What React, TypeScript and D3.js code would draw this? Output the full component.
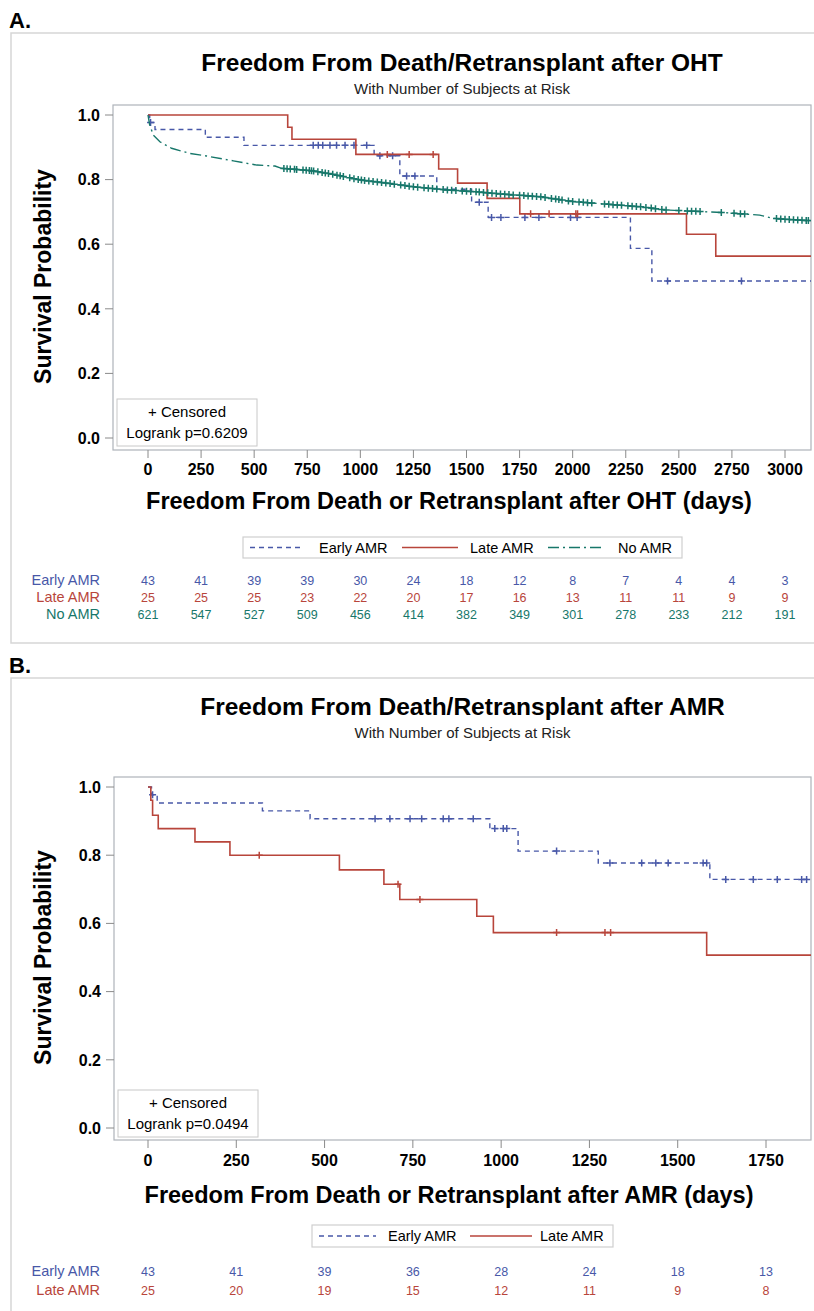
import React, { useEffect, useRef } from "react";
import * as d3 from "d3";

type Pt = [number, number];

// ---- Panel A: after OHT ----
const ohtTicks = [0, 250, 500, 750, 1000, 1250, 1500, 1750, 2000, 2250, 2500, 2750, 3000];

const ohtEarlyEvents: Pt[] = [
  [8, 0.977], [33, 0.955], [270, 0.931], [452, 0.906], [1065, 0.874], [1186, 0.811],
  [1360, 0.770], [1524, 0.730], [1602, 0.683], [2272, 0.587], [2373, 0.486],
];
const ohtEarlyCensored = [
  12, 778, 802, 823, 857, 888, 928, 970, 1030, 1092, 1152, 1218, 1257, 1560, 1618,
  1662, 1775, 1841, 1990, 2021, 2447, 2795,
];

const ohtLateEvents: Pt[] = [
  [658, 0.962], [678, 0.925], [979, 0.878], [1369, 0.833], [1458, 0.789],
  [1597, 0.742], [1751, 0.694], [2536, 0.631], [2674, 0.563],
];
const ohtLateCensored = [1127, 1230, 1343, 1802, 1889, 2015, 2023];

// No AMR: traced off the (very dense) curve
const ohtNoneTrace: Pt[] = [
  [8, 0.969], [25, 0.938], [56, 0.917], [111, 0.897], [198, 0.881], [276, 0.873],
  [402, 0.858], [512, 0.845], [598, 0.842], [629, 0.835], [778, 0.827], [873, 0.816],
  [998, 0.799], [1124, 0.789], [1249, 0.778], [1406, 0.768], [1532, 0.763], [1689, 0.754],
  [1846, 0.747], [2002, 0.732], [2160, 0.724], [2316, 0.716], [2442, 0.706], [2536, 0.703],
  [2709, 0.698], [2881, 0.690], [2944, 0.680], [3101, 0.673],
];
const ohtNoneCensored = [
  640, 655, 670, 690, 700, 730, 745, 760, 770, 780, 800, 820, 835, 850, 870, 890, 905,
  920, 950, 970, 990, 1005, 1020, 1040, 1060, 1080, 1100, 1120, 1140, 1160, 1190, 1210,
  1230, 1250, 1270, 1300, 1320, 1340, 1360, 1390, 1410, 1430, 1450, 1480, 1500, 1520,
  1545, 1560, 1580, 1600, 1620, 1640, 1660, 1680, 1700, 1720, 1750, 1770, 1790, 1810,
  1830, 1850, 1870, 1900, 1920, 1935, 1950, 1980, 2000, 2030, 2050, 2070, 2090, 2150,
  2170, 2190, 2210, 2230, 2260, 2280, 2300, 2320, 2345, 2370, 2390, 2420, 2440, 2500,
  2540, 2560, 2580, 2600, 2700, 2760, 2790, 2810, 2960, 2980, 3000, 3020, 3040, 3060,
  3080, 3100, 3110,
];

const ohtRiskEarly = [43, 41, 39, 39, 30, 24, 18, 12, 8, 7, 4, 4, 3];
const ohtRiskLate = [25, 25, 25, 23, 22, 20, 17, 16, 13, 11, 11, 9, 9];
const ohtRiskNone = [621, 547, 527, 509, 456, 414, 382, 349, 301, 278, 233, 212, 191];

// ---- Panel B: after AMR ----
const amrTicks = [0, 250, 500, 750, 1000, 1250, 1500, 1750];

const amrEarlyEvents: Pt[] = [
  [10, 0.977], [26, 0.953], [324, 0.930], [459, 0.907], [968, 0.878], [1048, 0.812],
  [1275, 0.777], [1591, 0.729],
];
const amrEarlyCensored = [
  13, 643, 685, 742, 775, 836, 852, 921, 982, 1006, 1016, 1157, 1308, 1398, 1438, 1473,
  1572, 1582, 1636, 1714, 1782, 1851, 1865,
];
const amrLateEvents: Pt[] = [
  [8, 0.961], [13, 0.917], [29, 0.878], [133, 0.839], [232, 0.800], [542, 0.757],
  [668, 0.715], [713, 0.670], [931, 0.621], [978, 0.573], [1582, 0.507],
];
const amrLateCensored = [315, 708, 770, 1157, 1294, 1310];

const amrRiskEarly = [43, 41, 39, 36, 28, 24, 18, 13];
const amrRiskLate = [25, 20, 19, 15, 12, 11, 9, 8];

const yTicks = [0, 0.2, 0.4, 0.6, 0.8, 1.0];

const FONT = '"Liberation Sans", Arial, Helvetica, sans-serif';
const BLUE = "#4858a8";
const RED = "#b8453b";
const TEAL = "#17776a";

interface Series {
  name: string;
  color: string;
  dash: string | null;
  points: Pt[];
  stepped: boolean;
  censored: number[];
  risk: number[];
}

interface PanelCfg {
  id: string;
  label: string;
  labelY: number;
  frameTop: number;
  frameBottom: number;
  title: string;
  titleY: number;
  subtitleY: number;
  plot: { left: number; right: number; top: number; bottom: number };
  yRange: [number, number];
  xDomain: [number, number];
  xRange: [number, number];
  ticks: number[];
  tickLabelY: number;
  xTitle: string;
  xTitleY: number;
  pValue: string;
  boxTop: number;
  legend: { left: number; right: number; top: number; bottom: number; items: [number, number, number][] };
  riskY: number[];
  series: Series[];
}

const valueAt = (s: Series, t: number) => {
  const pts: Pt[] = [[0, 1], ...s.points];
  const i = d3.bisector((d: Pt) => d[0]).right(pts, t) - 1;
  if (s.stepped || i >= pts.length - 1) return pts[Math.max(i, 0)][1];
  const a = pts[i];
  const b = pts[i + 1];
  return a[1] + ((t - a[0]) / (b[0] - a[0])) * (b[1] - a[1]);
};

function drawPanel(root: d3.Selection<SVGSVGElement, unknown, null, undefined>, p: PanelCfg) {
  const g = root.append("g");
  const { left, right, top, bottom } = p.plot;
  const cx = (left + right) / 2;

  g.append("rect")
    .attr("x", 11)
    .attr("y", p.frameTop)
    .attr("width", 820)
    .attr("height", p.frameBottom - p.frameTop)
    .attr("fill", "none")
    .attr("stroke", "#d6d6d6")
    .attr("stroke-width", 1.5);

  g.append("text")
    .attr("x", 9)
    .attr("y", p.labelY)
    .attr("font-size", 22)
    .attr("font-weight", "bold")
    .text(p.label);

  g.append("text")
    .attr("x", cx)
    .attr("y", p.titleY)
    .attr("text-anchor", "middle")
    .attr("font-size", 24.5)
    .attr("font-weight", "bold")
    .text(p.title);

  g.append("text")
    .attr("x", cx)
    .attr("y", p.subtitleY)
    .attr("text-anchor", "middle")
    .attr("font-size", 15)
    .attr("fill", "#222")
    .text("With Number of Subjects at Risk");

  const x = d3.scaleLinear().domain(p.xDomain).range(p.xRange);
  const y = d3.scaleLinear().domain([0, 1]).range(p.yRange);
  const xMax = x.invert(right);

  // plot border
  g.append("rect")
    .attr("x", left)
    .attr("y", top)
    .attr("width", right - left)
    .attr("height", bottom - top)
    .attr("fill", "none")
    .attr("stroke", "#aeb3ba")
    .attr("stroke-width", 1.2);

  // y axis
  yTicks.forEach((v) => {
    g.append("line")
      .attr("x1", left - 8)
      .attr("x2", left)
      .attr("y1", y(v))
      .attr("y2", y(v))
      .attr("stroke", "#8a8a8a");
    g.append("text")
      .attr("x", left - 13)
      .attr("y", y(v))
      .attr("dy", "0.36em")
      .attr("text-anchor", "end")
      .attr("font-size", 16)
      .attr("font-weight", "bold")
      .text(v.toFixed(1));
  });
  g.append("text")
    .attr("transform", `translate(51,${(p.yRange[0] + p.yRange[1]) / 2}) rotate(-90)`)
    .attr("text-anchor", "middle")
    .attr("font-size", 23)
    .attr("font-weight", "bold")
    .text("Survival Probability");

  // x axis
  p.ticks.forEach((t) => {
    g.append("line")
      .attr("x1", x(t))
      .attr("x2", x(t))
      .attr("y1", bottom)
      .attr("y2", bottom + 8)
      .attr("stroke", "#8a8a8a");
    g.append("text")
      .attr("x", x(t))
      .attr("y", p.tickLabelY)
      .attr("text-anchor", "middle")
      .attr("font-size", 16)
      .attr("font-weight", "bold")
      .text(t);
  });
  g.append("text")
    .attr("x", 449)
    .attr("y", p.xTitleY)
    .attr("text-anchor", "middle")
    .attr("font-size", 23.5)
    .attr("font-weight", "bold")
    .text(p.xTitle);

  // curves
  const clipId = `clip-${p.id}`;
  g.append("clipPath")
    .attr("id", clipId)
    .append("rect")
    .attr("x", left)
    .attr("y", top)
    .attr("width", right - left)
    .attr("height", bottom - top);
  const cg = g.append("g").attr("clip-path", `url(#${clipId})`);

  p.series.forEach((s) => {
    const last = s.points[s.points.length - 1][1];
    const pts: Pt[] = [[0, 1], ...s.points, [xMax, last]];
    const line = d3
      .line<Pt>()
      .x((d) => x(d[0]))
      .y((d) => y(d[1]))
      .curve(s.stepped ? d3.curveStepAfter : d3.curveLinear);
    cg.append("path")
      .datum(pts)
      .attr("fill", "none")
      .attr("stroke", s.color)
      .attr("stroke-width", s.dash ? 1.4 : 1.6)
      .attr("stroke-dasharray", s.dash)
      .attr("d", line);

    cg.selectAll(null)
      .data(s.censored)
      .enter()
      .append("path")
      .attr("d", (t) => {
        const px = x(t);
        const py = y(valueAt(s, t));
        return `M${px - 3.5},${py}H${px + 3.5}M${px},${py - 3.5}V${py + 3.5}`;
      })
      .attr("stroke", s.color)
      .attr("stroke-width", 1.5)
      .attr("fill", "none");
  });

  // censored / logrank box
  g.append("rect")
    .attr("x", left + 4)
    .attr("y", p.boxTop)
    .attr("width", 140)
    .attr("height", 47)
    .attr("fill", "white")
    .attr("stroke", "#c8c8c8");
  g.append("text")
    .attr("x", left + 74)
    .attr("y", p.boxTop + 18)
    .attr("text-anchor", "middle")
    .attr("font-size", 15)
    .text("+ Censored");
  g.append("text")
    .attr("x", left + 74)
    .attr("y", p.boxTop + 39)
    .attr("text-anchor", "middle")
    .attr("font-size", 15)
    .text(`Logrank p=${p.pValue}`);

  // legend
  const L = p.legend;
  g.append("rect")
    .attr("x", L.left)
    .attr("y", L.top)
    .attr("width", L.right - L.left)
    .attr("height", L.bottom - L.top)
    .attr("fill", "white")
    .attr("stroke", "#cfcfcf")
    .attr("stroke-width", 1.2);
  const ly = (L.top + L.bottom) / 2;
  p.series.forEach((s, i) => {
    const [x1, x2, tx] = L.items[i];
    g.append("line")
      .attr("x1", x1)
      .attr("x2", x2)
      .attr("y1", ly)
      .attr("y2", ly)
      .attr("stroke", s.color)
      .attr("stroke-width", 1.4)
      .attr("stroke-dasharray", s.dash);
    g.append("text")
      .attr("x", tx)
      .attr("y", ly)
      .attr("dy", "0.36em")
      .attr("font-size", 14.5)
      .text(s.name);
  });

  // number at risk
  p.series.forEach((s, i) => {
    const ry = p.riskY[i];
    g.append("text")
      .attr("x", 100)
      .attr("y", ry)
      .attr("text-anchor", "end")
      .attr("font-size", 14.5)
      .attr("fill", s.color)
      .text(s.name);
    g.selectAll(null)
      .data(s.risk)
      .enter()
      .append("text")
      .attr("x", (_, j) => x(p.ticks[j]))
      .attr("y", ry)
      .attr("text-anchor", "middle")
      .attr("font-size", 12.5)
      .attr("fill", s.color)
      .text((d) => d);
  });
}

export default function App() {
  const svgRef = useRef<SVGSVGElement>(null);

  useEffect(() => {
    const svg = d3.select(svgRef.current as SVGSVGElement);
    svg.selectAll("*").remove();

    const panelA: PanelCfg = {
      id: "a",
      label: "A.",
      labelY: 28,
      frameTop: 33,
      frameBottom: 643,
      title: "Freedom From Death/Retransplant after OHT",
      titleY: 71,
      subtitleY: 94,
      plot: { left: 113, right: 811, top: 105, bottom: 450 },
      yRange: [438, 115],
      xDomain: [0, 3000],
      xRange: [148, 785],
      ticks: ohtTicks,
      tickLabelY: 475,
      xTitle: "Freedom From Death or Retransplant after OHT (days)",
      xTitleY: 509,
      pValue: "0.6209",
      boxTop: 399,
      legend: {
        left: 243,
        right: 682,
        top: 537,
        bottom: 558,
        items: [
          [250, 304, 319],
          [402, 458, 470],
          [548, 601, 618],
        ],
      },
      riskY: [585, 602, 619],
      series: [
        { name: "Early AMR", color: BLUE, dash: "5,4", points: ohtEarlyEvents, stepped: true, censored: ohtEarlyCensored, risk: ohtRiskEarly },
        { name: "Late AMR", color: RED, dash: null, points: ohtLateEvents, stepped: true, censored: ohtLateCensored, risk: ohtRiskLate },
        { name: "No AMR", color: TEAL, dash: "11,4,2,4", points: ohtNoneTrace, stepped: false, censored: ohtNoneCensored, risk: ohtRiskNone },
      ],
    };

    const panelB: PanelCfg = {
      id: "b",
      label: "B.",
      labelY: 673,
      frameTop: 678,
      frameBottom: 1340,
      title: "Freedom From Death/Retransplant after AMR",
      titleY: 715,
      subtitleY: 738,
      plot: { left: 114, right: 811, top: 777, bottom: 1140 },
      yRange: [1128, 787],
      xDomain: [0, 1750],
      xRange: [148, 766],
      ticks: amrTicks,
      tickLabelY: 1166,
      xTitle: "Freedom From Death or Retransplant after AMR (days)",
      xTitleY: 1203,
      pValue: "0.0494",
      boxTop: 1090,
      legend: {
        left: 312,
        right: 613,
        top: 1225,
        bottom: 1247,
        items: [
          [319, 376, 388],
          [470, 532, 540],
        ],
      },
      riskY: [1276, 1295],
      series: [
        { name: "Early AMR", color: BLUE, dash: "5,4", points: amrEarlyEvents, stepped: true, censored: amrEarlyCensored, risk: amrRiskEarly },
        { name: "Late AMR", color: RED, dash: null, points: amrLateEvents, stepped: true, censored: amrLateCensored, risk: amrRiskLate },
      ],
    };

    drawPanel(svg, panelA);
    drawPanel(svg, panelB);
  }, []);

  return (
    <svg
      ref={svgRef}
      width={814}
      height={1311}
      style={{ position: "absolute", left: 0, top: 0, display: "block", background: "white", fontFamily: FONT }}
    />
  );
}
